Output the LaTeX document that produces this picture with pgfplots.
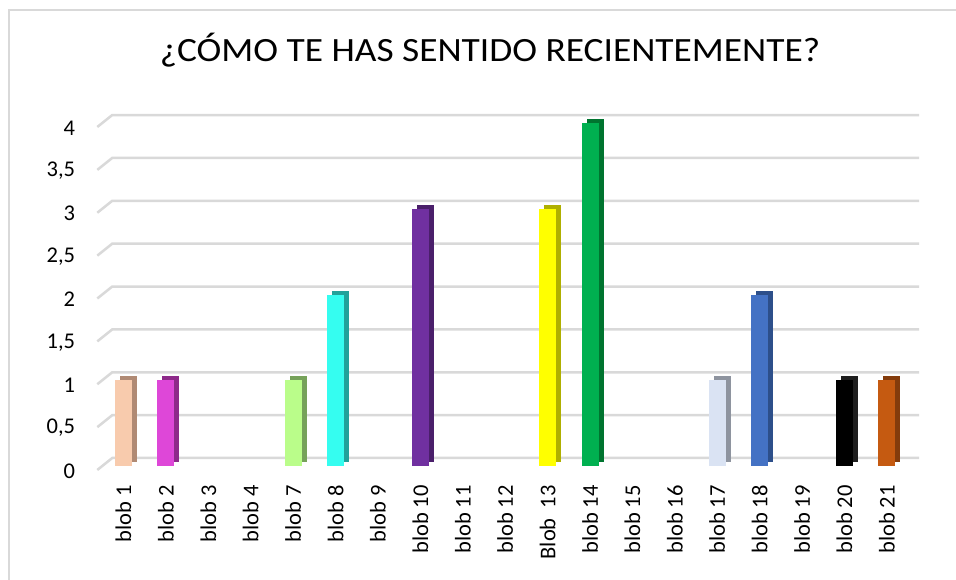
\documentclass[border=0pt]{standalone}
\usepackage{pgfplots}
\pgfplotsset{compat=1.18}
\usepackage{fontspec}
\setmainfont{Carlito}
\newfontfamily\titlefont[FakeStretch=1.1]{Carlito}
\definecolor{gridc}{RGB}{217,217,217}
\definecolor{frontA}{RGB}{248,203,173}\definecolor{sideA}{RGB}{176,138,116}
\definecolor{frontB}{RGB}{222,71,216}\definecolor{sideB}{RGB}{142,42,138}
\definecolor{frontC}{RGB}{186,253,138}\definecolor{sideC}{RGB}{118,162,90}
\definecolor{frontD}{RGB}{53,253,240}\definecolor{sideD}{RGB}{33,162,154}
\definecolor{frontE}{RGB}{112,48,160}\definecolor{sideE}{RGB}{74,31,106}
\definecolor{frontF}{RGB}{255,255,0}\definecolor{sideF}{RGB}{175,175,0}
\definecolor{frontG}{RGB}{0,176,80}\definecolor{sideG}{RGB}{0,116,47}
\definecolor{frontH}{RGB}{218,227,243}\definecolor{sideH}{RGB}{142,148,159}
\definecolor{frontI}{RGB}{68,114,196}\definecolor{sideI}{RGB}{45,79,138}
\definecolor{frontJ}{RGB}{0,0,0}\definecolor{sideJ}{RGB}{30,30,30}
\definecolor{frontK}{RGB}{197,90,17}\definecolor{sideK}{RGB}{132,60,12}
\newcommand{\threedbar}[4]{%
  \addplot[ybar, bar width=17bp, bar shift=5bp, fill=#4, draw=none, yshift=4bp] coordinates {(#1,#2)};
  \addplot[ybar, bar width=17bp, bar shift=0pt, fill=#3, draw=none] coordinates {(#1,#2)};
}
\begin{document}
\begin{tikzpicture}
\useasboundingbox (0,0) rectangle (956bp,580bp);
\fill[white] (0,0) rectangle (956bp,580bp);
\draw[gridc, line width=1.5bp] (9bp,-5bp) -- (9bp,570bp) -- (970bp,570bp);
\node[anchor=base, font=\titlefont\fontsize{34bp}{40bp}\selectfont] at (490bp,518bp) {¿CÓMO TE HAS SENTIDO RECIENTEMENTE?};
\begin{axis}[
  at={(102.3bp,114bp)}, anchor=south west,
  scale only axis, width=805.8bp, height=343bp,
  xmin=-0.5, xmax=18.5, ymin=0, ymax=4,
  axis line style={draw=none},
  major tick length=0pt,
  clip=false,
  xtick={0,...,18},
  xticklabels={blob 1, blob 2, blob 3, blob 4, blob 7, blob 8, blob 9, blob 10, blob 11, blob 12, Blob~~13, blob 14, blob 15, blob 16, blob 17, blob 18, blob 19, blob 20, blob 21},
  xticklabel style={rotate=90, anchor=east, inner sep=0pt, font=\fontsize{22.5bp}{26bp}\selectfont},
  xticklabel shift=19bp,
  ytick={0,0.5,...,4},
  yticklabels={0,{0,5},1,{1,5},2,{2,5},3,{3,5},4},
  yticklabel style={anchor=east, inner sep=0pt, yshift=-5bp, font=\fontsize{22.5bp}{26bp}\selectfont},
  yticklabel shift=27bp,
]
\pgfplotsinvokeforeach{0,0.5,...,4}{
  \draw[gridc, line width=2.5bp] ([xshift=-5bp,yshift=-4bp]axis cs:-0.5,#1) -- ++(15bp,12bp) -- ([xshift=11bp,yshift=8bp]axis cs:18.5,#1);
}
\threedbar{0}{1}{frontA}{sideA}
\threedbar{1}{1}{frontB}{sideB}
\threedbar{4}{1}{frontC}{sideC}
\threedbar{5}{2}{frontD}{sideD}
\threedbar{7}{3}{frontE}{sideE}
\threedbar{10}{3}{frontF}{sideF}
\threedbar{11}{4}{frontG}{sideG}
\threedbar{14}{1}{frontH}{sideH}
\threedbar{15}{2}{frontI}{sideI}
\threedbar{17}{1}{frontJ}{sideJ}
\threedbar{18}{1}{frontK}{sideK}
\end{axis}
\end{tikzpicture}
\end{document}
